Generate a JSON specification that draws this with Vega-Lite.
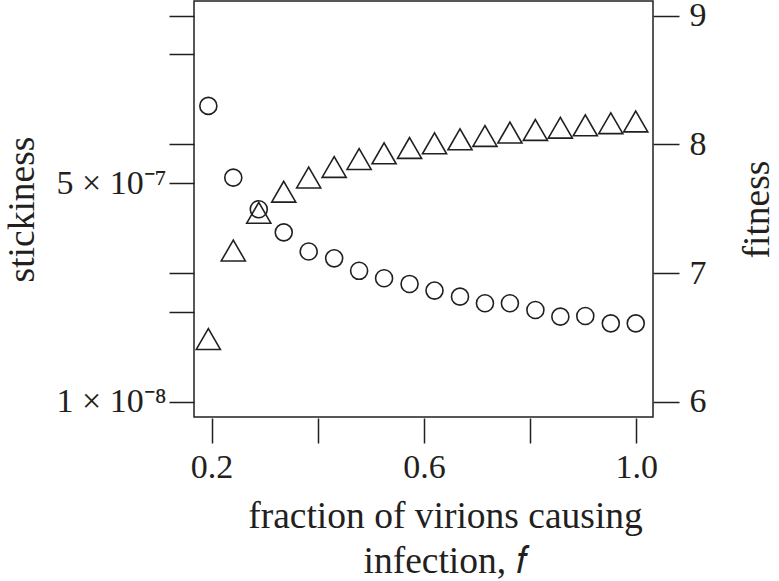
{
  "$schema": "https://vega.github.io/schema/vega-lite/v6.json",
  "width": 459,
  "height": 416,
  "autosize": {"type": "none"},
  "padding": {"left": 194, "top": 1, "right": 126, "bottom": 164},
  "background": "white",
  "config": {
    "view": {"stroke": "#231f20", "strokeWidth": 1.5},
    "axis": {
      "domain": false,
      "grid": false,
      "labelFont": "Liberation Serif",
      "labelFontSize": 34,
      "labelColor": "#231f20",
      "tickColor": "#231f20",
      "tickWidth": 1.5,
      "tickSize": 25,
      "titleFont": "Liberation Serif",
      "titleFontSize": 37.5,
      "titleFontWeight": "normal",
      "titleColor": "#231f20"
    }
  },
  "data": {
    "values": [
      {"f": 0.194, "stickiness": 1.99e-6, "fitness": 6.487},
      {"f": 0.241, "stickiness": 5.51e-7, "fitness": 7.175},
      {"f": 0.289, "stickiness": 3.13e-7, "fitness": 7.468},
      {"f": 0.336, "stickiness": 2.07e-7, "fitness": 7.632},
      {"f": 0.383, "stickiness": 1.47e-7, "fitness": 7.742},
      {"f": 0.431, "stickiness": 1.30e-7, "fitness": 7.824},
      {"f": 0.478, "stickiness": 1.04e-7, "fitness": 7.886},
      {"f": 0.525, "stickiness": 9.10e-8, "fitness": 7.930},
      {"f": 0.573, "stickiness": 8.22e-8, "fitness": 7.972},
      {"f": 0.620, "stickiness": 7.30e-8, "fitness": 8.008},
      {"f": 0.668, "stickiness": 6.55e-8, "fitness": 8.039},
      {"f": 0.715, "stickiness": 5.82e-8, "fitness": 8.065},
      {"f": 0.762, "stickiness": 5.82e-8, "fitness": 8.091},
      {"f": 0.810, "stickiness": 5.16e-8, "fitness": 8.112},
      {"f": 0.857, "stickiness": 4.58e-8, "fitness": 8.129},
      {"f": 0.904, "stickiness": 4.63e-8, "fitness": 8.148},
      {"f": 0.952, "stickiness": 4.06e-8, "fitness": 8.164},
      {"f": 0.999, "stickiness": 4.06e-8, "fitness": 8.178}
    ]
  },
  "encoding": {
    "x": {
      "field": "f",
      "type": "quantitative",
      "scale": {"domain": [0.167, 1.0315], "nice": false, "zero": false},
      "axis": {
        "values": [0.2, 0.4, 0.6, 0.8, 1.0],
        "labelExpr": "datum.value == 0.4 || datum.value == 0.8 ? '' : format(datum.value, '.1f')",
        "offset": 1,
        "labelPadding": 7,
        "title": ["fraction of virions causing", "infection, 𝑓"],
        "titleLineHeight": 45,
        "titlePadding": 13,
        "titleX": 251
      }
    }
  },
  "layer": [
    {
      "mark": {"type": "point", "shape": "circle", "filled": false, "size": 290, "color": "#231f20", "strokeWidth": 1.6, "opacity": 1},
      "encoding": {
        "y": {
          "field": "stickiness",
          "type": "quantitative",
          "scale": {"type": "log", "domain": [7.6e-9, 1.3e-5], "nice": false},
          "axis": {
            "orient": "left",
            "values": [1e-8, 5e-8, 1e-7, 5e-7, 1e-6, 5e-6, 1e-5],
            "labelExpr": "abs(datum.value - 1e-8) < 1e-12 ? '1 × 10⁻⁸' : (abs(datum.value - 5e-7) < 1e-12 ? '5 × 10⁻⁷' : '')",
            "labelPadding": 3,
            "title": "stickiness",
            "titlePadding": 14
          }
        }
      }
    },
    {
      "mark": {"type": "point", "shape": "triangle-up", "filled": false, "size": 580, "color": "#231f20", "strokeWidth": 1.6, "opacity": 1},
      "encoding": {
        "y": {
          "field": "fitness",
          "type": "quantitative",
          "scale": {"domain": [5.881, 9.114], "nice": false, "zero": false},
          "axis": {
            "orient": "right",
            "values": [6, 7, 8, 9],
            "tickSize": 26,
            "labelPadding": 10,
            "title": "fitness",
            "titleAngle": -90,
            "titlePadding": 70
          }
        }
      }
    }
  ],
  "resolve": {"scale": {"y": "independent"}}
}
